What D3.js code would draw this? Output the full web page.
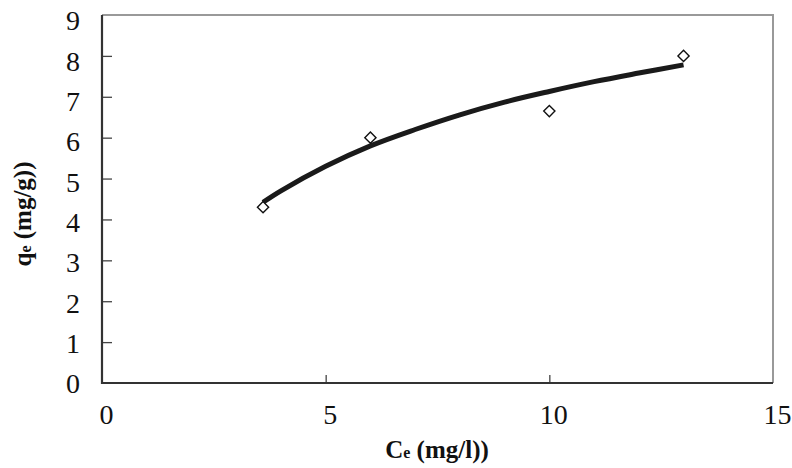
<!DOCTYPE html>
<html>
<head>
<meta charset="utf-8">
<script src="https://cdn.jsdelivr.net/npm/d3@7"></script>
<style>
  body { margin: 0; background: #fff; }
  svg text { font-family: "Liberation Serif", "Times New Roman", Times, "DejaVu Serif", serif; fill: #111; }
</style>
</head>
<body>
<div class="container"></div>
<script>
// measured points (Ce, qe)
var ceObs = [3.6, 6.0, 10.0, 13.0];
var qeObs = [4.3, 6.0, 6.65, 8.0];

// fitted curve
var ceFit = [3.6, 4, 5, 6, 7, 8, 9, 10, 11, 12, 13];
var qeFit = [4.42, 4.7, 5.3, 5.8, 6.2, 6.56, 6.87, 7.13, 7.37, 7.58, 7.78];

var xTicks = [0, 5, 10, 15];
var yTicks = [0, 1, 2, 3, 4, 5, 6, 7, 8, 9];

var width = 792;
var height = 468;
var serif = '"Liberation Serif", "Times New Roman", Times, "DejaVu Serif", serif';

var svg = d3.select('.container')
    .append('svg')
    .attr('width', width)
    .attr('height', height);

var x = d3.scaleLinear().domain([0, 15]).range([102, 773]);
var y = d3.scaleLinear().domain([0, 9]).range([383, 15]);
// tick labels sit slightly off the ticks in the scan
var yLab = d3.scaleLinear().domain([0, 9]).range([384, 21]);

// plot frame: top and right grey
svg.append('path')
    .attr('d', 'M' + x(0) + ',' + y(9) + 'H' + x(15) + 'V' + y(0))
    .style('fill', 'none')
    .style('stroke', '#999')
    .style('stroke-width', 2);

// inner tick marks
svg.append('g')
    .attr('transform', 'translate(' + x(0) + ',0)')
    .call(d3.axisRight(y).tickValues(yTicks.slice(1, -1)).tickSize(10).tickFormat(''))
    .call(g => g.select('.domain').remove())
    .selectAll('line').style('stroke', '#444').style('stroke-width', 1.3);

svg.append('g')
    .attr('transform', 'translate(0,' + y(0) + ')')
    .call(d3.axisTop(x).tickValues([5, 10]).tickSize(8).tickFormat(''))
    .call(g => g.select('.domain').remove())
    .selectAll('line').style('stroke', '#444').style('stroke-width', 1.3);

// left and bottom axis lines
svg.append('path')
    .attr('d', 'M' + x(0) + ',' + y(9) + 'V' + y(0) + 'H' + x(15))
    .style('fill', 'none')
    .style('stroke', '#333')
    .style('stroke-width', 2.2);

// tick labels
var yAxisLab = svg.append('g')
    .attr('transform', 'translate(80,0)')
    .call(d3.axisLeft(yLab).tickValues(yTicks).tickSize(0).tickPadding(0).tickFormat(d3.format('d')))
    .attr('font-family', serif)
    .attr('font-size', 28);
yAxisLab.select('.domain').remove();
yAxisLab.selectAll('text').attr('fill', '#111');

var xAxisLab = svg.append('g')
    .attr('transform', 'translate(4,' + 404 + ')')
    .call(d3.axisBottom(x).tickValues(xTicks).tickSize(0).tickPadding(0).tickFormat(d3.format('d')))
    .attr('font-family', serif)
    .attr('font-size', 28);
xAxisLab.select('.domain').remove();
xAxisLab.selectAll('text').attr('fill', '#111');

// fitted curve
var pts = ceFit.map((c, i) => [c, qeFit[i]]);
svg.append('path')
    .datum(pts)
    .attr('d', d3.line().x(d => x(d[0])).y(d => y(d[1])).curve(d3.curveCatmullRom))
    .style('fill', 'none')
    .style('stroke', '#1a1a1a')
    .style('stroke-width', 5)
    .style('stroke-linecap', 'butt');

// observed points as diamonds
svg.selectAll('.pt')
    .data(ceObs)
    .enter()
    .append('path')
    .attr('class', 'pt')
    .attr('transform', (d, i) => 'translate(' + x(d) + ',' + y(qeObs[i]) + ')')
    .attr('d', d3.symbol().type(d3.symbolDiamond2).size(80))
    .style('fill', '#fff')
    .style('stroke', '#111')
    .style('stroke-width', 1.4);

// axis titles
var xt = svg.append('text')
    .attr('x', 437)
    .attr('y', 458)
    .attr('text-anchor', 'middle')
    .attr('font-family', serif)
    .attr('font-size', 25)
    .attr('font-weight', 'bold');
xt.append('tspan').text('C');
xt.append('tspan').attr('font-size', 16).text('e');
xt.append('tspan').text(' (mg/l))');

var yt = svg.append('text')
    .attr('transform', 'translate(31,214) rotate(-90)')
    .attr('text-anchor', 'middle')
    .attr('font-family', serif)
    .attr('font-size', 25)
    .attr('font-weight', 'bold');
yt.append('tspan').text('q');
yt.append('tspan').attr('font-size', 16).text('e');
yt.append('tspan').text(' (mg/g))');
</script>
</body>
</html>
